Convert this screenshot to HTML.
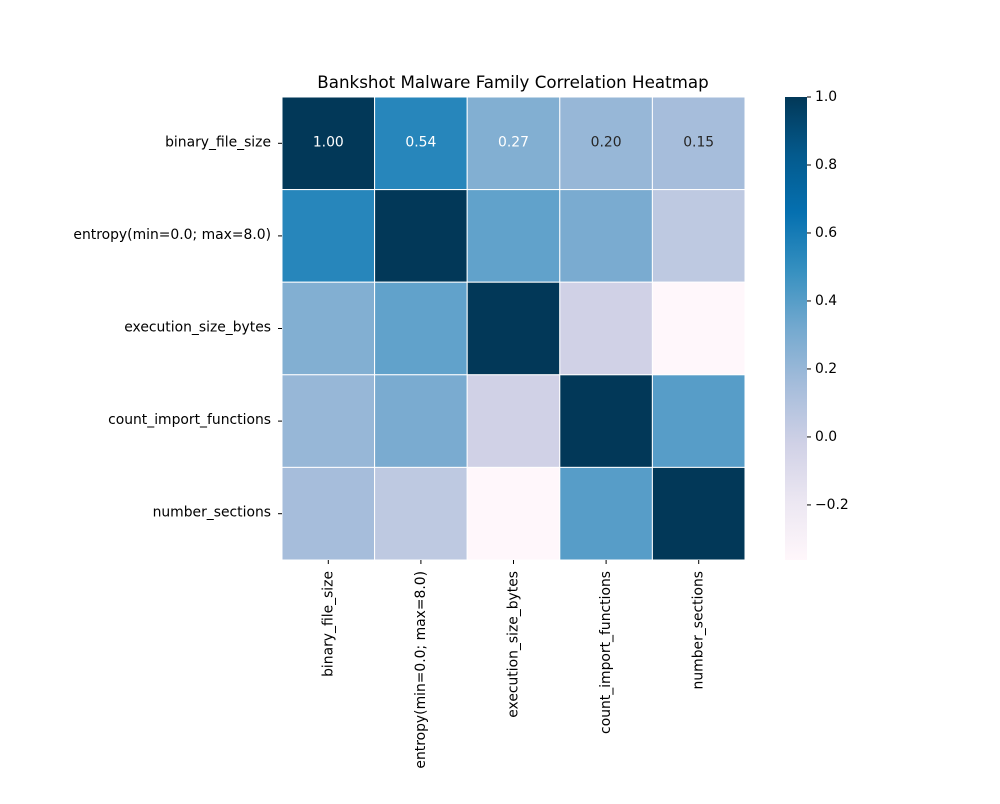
<!DOCTYPE html>
<html><head><meta charset="utf-8"><style>
body{margin:0;background:#fff;font-family:"DejaVu Sans","Liberation Sans",sans-serif;}
</style></head><body>
<svg id="chart" width="1000" height="800" xmlns="http://www.w3.org/2000/svg" font-family="DejaVu Sans, Liberation Sans, sans-serif">
<text x="513" y="88" text-anchor="middle" font-size="16.7">Bankshot Malware Family Correlation Heatmap</text>
<g id="cells"></g><g id="ylabels"></g><g id="xlabels"></g><g id="cbar"></g>
</svg>
<script>
const labels=["binary_file_size","entropy(min=0.0; max=8.0)","execution_size_bytes","count_import_functions","number_sections"];
const row0=[1.00,0.54,0.27,0.20,0.15];
const row1=[0.54,1.00,0.37,0.30,0.05];
const row2=[0.27,0.37,1.00,-0.02,-0.36];
const row3=[0.20,0.30,-0.02,1.00,0.40];
const row4=[0.15,0.05,-0.36,0.40,1.00];
const matrix=[row0,row1,row2,row3,row4];
const annotatedRows=[0];
const cbTicks=[-0.2,0.0,0.2,0.4,0.6,0.8,1.0];
const vmin=-0.362,vmax=1.0;
const pal=["#fff7fb","#ece7f2","#d0d1e6","#a6bddb","#74a9cf","#3690c0","#0570b0","#045a8d","#023858"];
const NS="http://www.w3.org/2000/svg";
function hx(c){return [1,3,5].map(i=>parseInt(c.substr(i,2),16));}
function color(v){let t=Math.max(0,Math.min(1,(v-vmin)/(vmax-vmin)))*(pal.length-1);let i=Math.min(pal.length-2,Math.floor(t));let f=t-i;let a=hx(pal[i]),b=hx(pal[i+1]);let c=a.map((x,k)=>Math.round(x+(b[k]-x)*f));return {css:`rgb(${c})`,rgb:c};}
function lum(c){const l=c.map(x=>{x/=255;return x<=0.03928?x/12.92:Math.pow((x+0.055)/1.055,2.4);});return 0.2126*l[0]+0.7152*l[1]+0.0722*l[2];}
const X0=282,Y0=97,W=463,H=463,n=labels.length,cw=W/n,ch=H/n;
const xPos=i=>X0+i*cw, yPos=i=>Y0+i*ch;
function mk(tag,at,parent){const e=document.createElementNS(NS,tag);for(const k in at)e.setAttribute(k,at[k]);parent.appendChild(e);return e;}
const cells=document.getElementById('cells');
matrix.forEach((row,r)=>row.forEach((v,c)=>{
 const col=color(v);
 const rect=mk('rect',{x:xPos(c),y:yPos(r),width:cw,height:ch,fill:col.css,stroke:'#fff','stroke-width':1},cells);
 
 
 if(annotatedRows.includes(r)){
  const t=mk('text',{x:xPos(c)+cw/2,y:yPos(r)+ch/2+3,'text-anchor':'middle','font-size':13.9,fill:lum(col.rgb)>0.408?'#262626':'#fff'},cells);
  t.textContent=v.toFixed(2);
  
  
 }
}));
const yl=document.getElementById('ylabels'),xl=document.getElementById('xlabels');
labels.forEach((l,i)=>{
 mk('line',{x1:X0-4,x2:X0,y1:yPos(i)+ch/2,y2:yPos(i)+ch/2,stroke:'#000'},yl);
 const t=mk('text',{x:X0-11,y:yPos(i)+ch/2+3,'text-anchor':'end','font-size':13.9},yl);
 t.textContent=l;
 
 
 const cx=xPos(i)+cw/2;
 mk('line',{x1:cx,x2:cx,y1:Y0+H,y2:Y0+H+4,stroke:'#000'},xl);
 const u=mk('text',{x:0,y:0,'text-anchor':'end','font-size':13.9,transform:`translate(${cx+4},${Y0+H+11}) rotate(-90)`},xl);
 u.textContent=l;
 
 
});
const cb=document.getElementById('cbar');
const CX=785,CW=22,CY0=97,CH=463;
const defs=mk('defs',{},cb);
const g=mk('linearGradient',{id:'cg',x1:0,y1:1,x2:0,y2:0},defs);
pal.forEach((p,i)=>mk('stop',{offset:i/(pal.length-1),'stop-color':p},g));
const bar=mk('rect',{x:CX,y:CY0,width:CW,height:CH,fill:'url(#cg)'},cb);


const cy=v=>CY0+CH*(vmax-v)/(vmax-vmin);
cbTicks.forEach(v=>{
 mk('line',{x1:CX+CW,x2:CX+CW+4,y1:cy(v),y2:cy(v),stroke:'#000'},cb);
 const t=mk('text',{x:CX+CW+8,y:cy(v)+4,'font-size':13.9},cb);
 t.textContent=(v<0?'\u2212':'')+Math.abs(v).toFixed(1);
 
 
});
</script>
</body></html>
